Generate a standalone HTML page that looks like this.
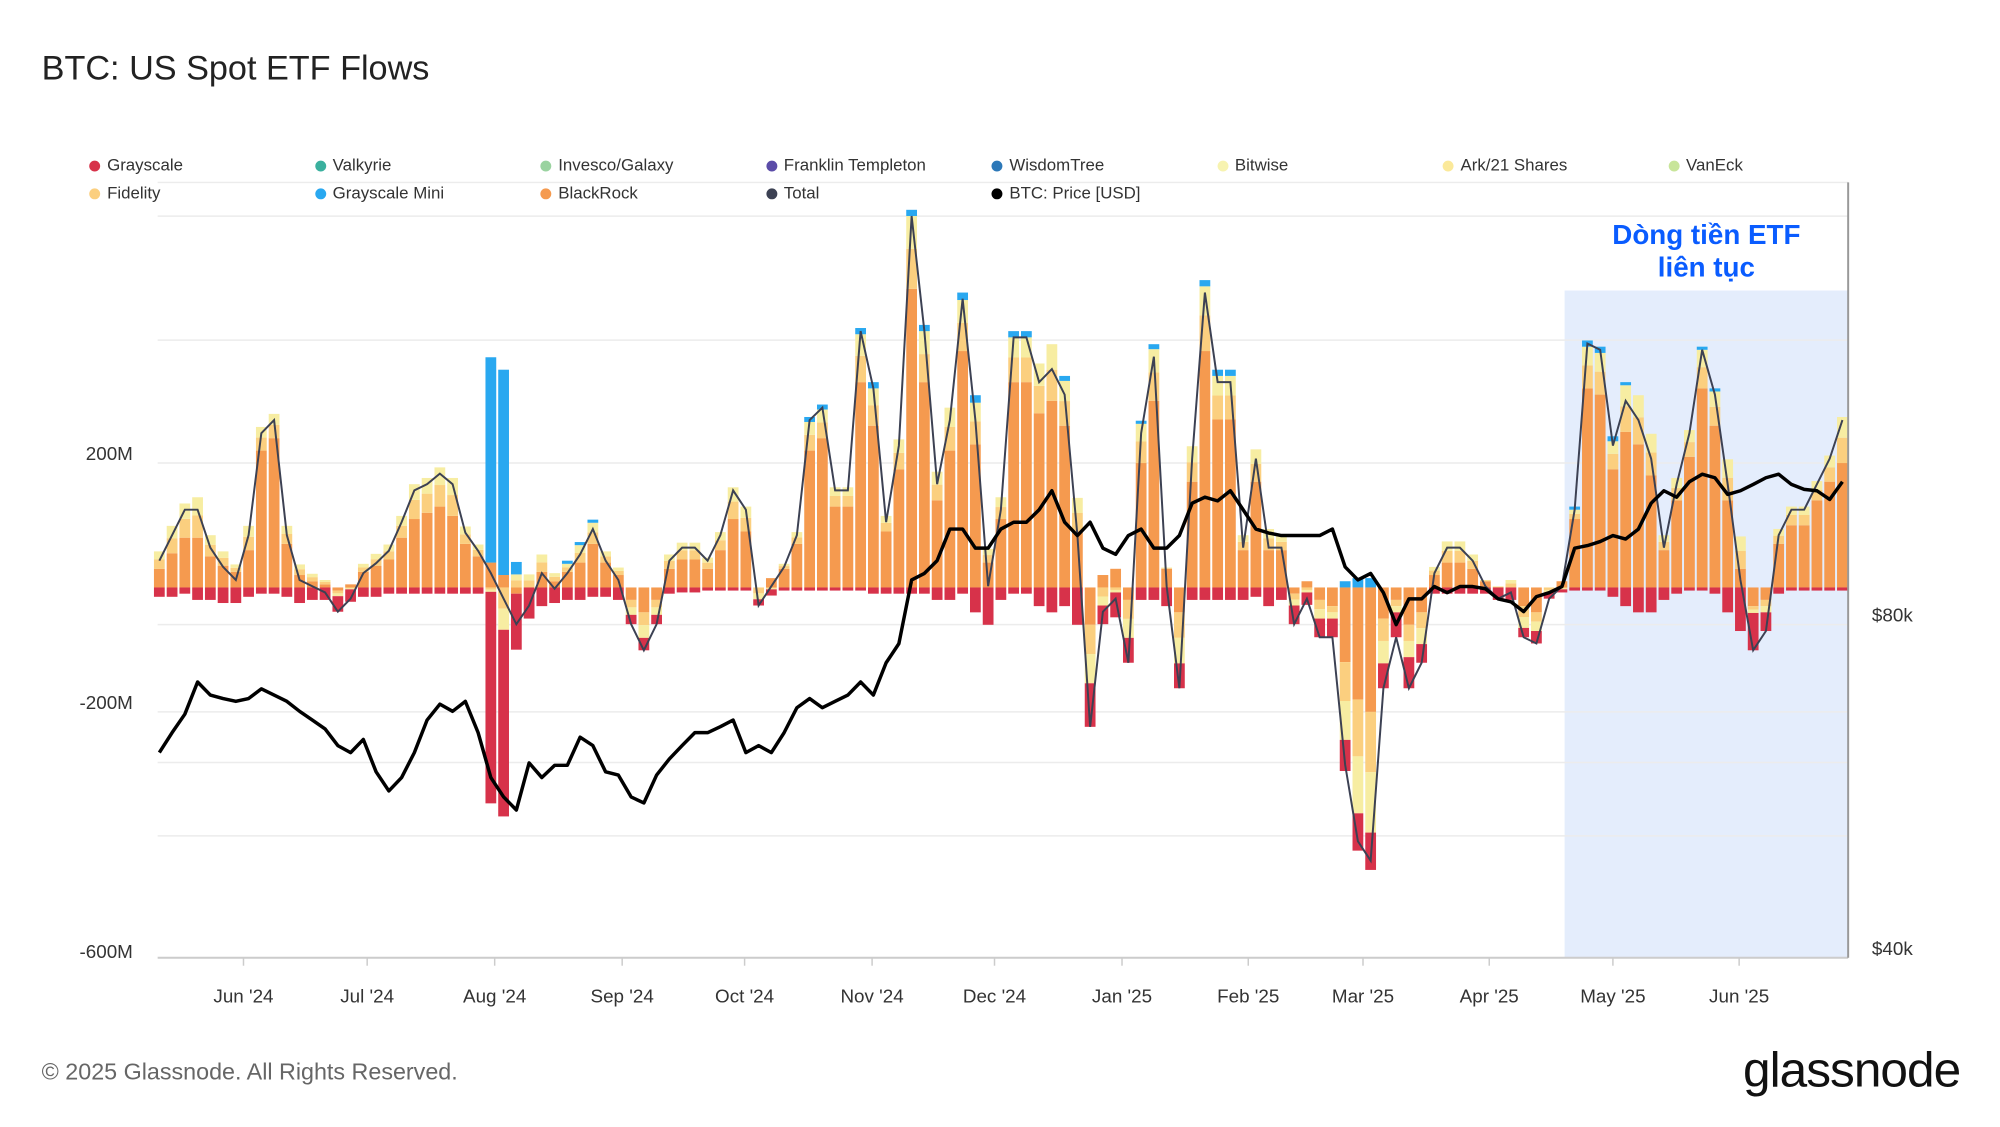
<!DOCTYPE html>
<html><head><meta charset="utf-8">
<style>
body{margin:0;background:#fff;width:2000px;height:1125px;overflow:hidden;font-family:"Liberation Sans","Noto Sans CJK SC",sans-serif}
#root{position:absolute;left:0;top:0;width:2022px;height:1137px;transform:scale(0.9915);transform-origin:0 0}
.title{position:absolute;left:42px;top:50px;font-size:34.5px;color:#222}
.leg{position:absolute;font-size:17px;color:#333;display:flex;align-items:center}
.leg i{display:inline-block;width:11px;height:11px;border-radius:50%;margin-right:7px}
.foot{position:absolute;left:42px;top:1068px;font-size:23.5px;color:#666}
.logo{position:absolute;left:1758px;top:1050px;font-size:50px;color:#111;letter-spacing:-1px}
.note{position:absolute;left:1571px;top:220px;width:300px;text-align:center;color:#0a5cff;font-weight:bold;font-size:28px;line-height:33px}
</style></head><body>
<div id="root">
<div class="title">BTC: US Spot ETF Flows</div>
<div id="legend"></div>
<svg id="chart" width="2022" height="1137" style="position:absolute;left:0;top:0"></svg>
<div class="note">Dòng tiền ETF<br>liên tục</div>
<div class="foot">© 2025 Glassnode. All Rights Reserved.</div>
<div class="logo">glassnode</div>
</div>
<script>
const total=[43,84,125,125,64,33,12,84,248,269,84,12,2,-8,-39,-18,23,39,59,105,156,166,183,166,88,59,23,-18,-59,-29,23,-2,23,53,94,43,12,-59,-101,-59,43,64,64,43,84,156,125,-29,2,33,84,269,289,156,156,412,320,105,228,597,412,166,269,464,269,2,125,402,402,330,351,310,84,-224,-39,-18,-121,248,371,2,-162,207,474,330,330,64,207,64,64,-59,-18,-80,-80,-285,-408,-439,-162,-80,-162,-121,23,64,64,43,2,-18,-8,-80,-90,-18,2,125,392,382,228,300,269,207,64,166,248,382,310,166,12,-101,-70,84,125,125,166,207,269];
const ibit=[30,55,80,80,50,35,25,60,220,240,70,20,10,5,-5,5,25,35,45,80,110,120,130,115,70,50,40,20,-10,0,25,10,25,40,70,40,20,-20,-40,-20,30,45,45,30,60,110,90,0,15,30,70,220,240,130,130,330,260,90,190,480,330,140,220,380,230,40,110,330,330,280,300,260,90,-60,20,30,-20,200,300,30,-40,170,380,270,270,60,170,60,60,-10,10,-20,-30,-120,-180,-200,-50,-20,-60,-40,20,40,40,30,10,0,0,-30,-40,0,10,110,320,310,190,250,230,180,60,140,210,320,260,140,30,-30,-20,70,100,100,140,170,200];
const gbtc=[-15,-15,-10,-20,-20,-25,-25,-15,-10,-10,-15,-25,-20,-20,-25,-20,-15,-15,-10,-10,-10,-10,-10,-10,-10,-10,-340,-300,-90,-50,-30,-25,-20,-20,-15,-15,-20,-15,-20,-15,-10,-8,-8,-5,-5,-5,-5,-10,-10,-5,-5,-5,-5,-5,-5,-5,-10,-10,-10,-10,-10,-20,-20,-10,-40,-60,-20,-10,-10,-30,-40,-30,-60,-70,-30,-40,-40,-20,-20,-30,-40,-20,-20,-20,-20,-20,-15,-30,-20,-30,-20,-30,-30,-50,-60,-60,-40,-40,-50,-30,-10,-10,-10,-10,-10,-20,-20,-15,-20,-10,-5,-5,-5,-5,-15,-30,-40,-40,-20,-10,-5,-5,-10,-40,-70,-60,-30,-10,-5,-5,-5,-5,-5];
const mini=[0,0,0,0,0,0,0,0,0,0,0,0,0,0,0,0,0,0,0,0,0,0,0,0,0,0,330,330,20,0,0,0,5,5,5,0,0,0,0,0,0,0,0,0,0,0,0,0,0,0,0,8,8,0,0,10,10,0,0,10,10,0,0,12,12,0,0,10,10,0,0,8,0,0,0,0,0,5,8,0,0,0,10,10,10,0,0,0,0,0,0,0,0,10,15,15,0,0,0,0,0,0,0,0,0,0,0,0,0,0,0,5,10,10,8,5,0,0,0,0,0,5,5,0,0,0,0,0,0,0,0,0,0];
const price=[61.3,63.9,66.4,71.0,69.1,68.6,68.2,68.6,70.0,69.1,68.2,66.8,65.6,64.4,62.2,61.3,63.0,58.9,56.6,58.2,61.3,65.6,67.8,66.8,68.2,63.9,58.2,55.9,54.4,60.0,58.2,59.7,59.7,63.3,62.2,58.9,58.5,55.9,55.2,58.5,60.5,62.2,63.9,63.9,64.7,65.6,61.3,62.2,61.3,63.9,67.3,68.6,67.3,68.2,69.1,71.0,69.1,73.9,76.9,87.8,89.0,91.4,97.6,97.6,93.8,93.8,97.6,99.0,99.0,101.6,105.7,99.0,96.3,99.0,93.8,92.6,96.3,97.6,93.8,93.8,96.3,103.0,104.3,103.5,105.7,101.6,97.6,96.8,96.3,96.3,96.3,96.3,97.6,90.2,87.8,89.0,85.5,80,84.4,84.4,86.6,85.5,86.6,86.6,86.2,84.4,83.9,82.2,84.8,85.5,86.6,93.8,94.3,95.1,96.3,95.6,97.6,103.0,105.7,104.3,107.7,109.4,108.6,104.9,105.7,107.1,108.6,109.4,107.1,106.0,105.7,103.8,107.7];
const monthLabels=["Jun '24","Jul '24","Aug '24","Sep '24","Oct '24","Nov '24","Dec '24","Jan '25","Feb '25","Mar '25","Apr '25","May '25","Jun '25"];
const monthIdx=[6.6,16.3,26.3,36.3,45.9,55.9,65.5,75.5,85.4,94.4,104.3,114.0,123.9];
const leftTicks=[200,-200,-600];
const rightTicks=[80,40];
const legendItems=[["Grayscale","#d7324a"],["Valkyrie","#3ab09e"],["Invesco/Galaxy","#9ad3a0"],["Franklin Templeton","#5b4ca8"],["WisdomTree","#2c78b8"],["Bitwise","#f7f3b0"],["Ark/21 Shares","#fbe99a"],["VanEck","#c8e59a"],["Fidelity","#fbcf7f"],["Grayscale Mini","#29a8f0"],["BlackRock","#f59a4f"],["Total","#3c4153"],["BTC: Price [USD]","#000"]];

const NS="http://www.w3.org/2000/svg";
const svg=document.getElementById('chart');
const X0=160.7,DX=12.86;
const xs=i=>X0+DX*i;
const yv=v=>592.5-v*0.6275;
const yp=p=>966-336*Math.log2(p/40);
function mk(tag,attrs,parent){const e=document.createElementNS(NS,tag);for(const k in attrs)e.setAttribute(k,attrs[k]);(parent||svg).appendChild(e);return e;}

const lg=document.getElementById('legend');
legendItems.forEach((it,k)=>{const d=document.createElement('div');d.className='leg';
d.style.left=(90+227.5*(k%8))+'px';d.style.top=(k<8?157:185)+'px';
d.innerHTML='<i style="background:'+it[1]+'"></i>'+it[0];


lg.appendChild(d);});

let r=mk('rect',{x:1578,y:293,width:286,height:673,fill:'#e4edfc'});


[184,218,343,467,630,718,769,843].forEach(y=>{let g=mk('line',{x1:159,x2:1864,y1:y,y2:y,stroke:'#ececec','stroke-width':1.5});

});
const gB=mk('g',{});


const bw=DX-2;
total.forEach((t,i)=>{
 const rest=t-ibit[i]-gbtc[i]-mini[i];
 const pos=[],neg=[];
 const push=(v,c)=>{if(v>0)pos.push([v,c]);else if(v<0)neg.push([v,c]);};
 push(ibit[i],'#f59a4f');
 if(rest>0){push(rest*0.55,'#fbcf7f');push(rest*0.45,'#f7eda2');}
 else{push(rest*0.5,'#fbcf7f');push(rest*0.5,'#f7eda2');}
 push(mini[i],'#29a8f0');
 push(gbtc[i],'#d7324a');
 let acc=0;pos.forEach(([v,c])=>{const b=mk('rect',{x:xs(i)-bw/2,y:yv(acc+v),width:bw,height:yv(acc)-yv(acc+v),fill:c},gB);
 
 acc+=v;});
 acc=0;neg.forEach(([v,c])=>{const b=mk('rect',{x:xs(i)-bw/2,y:yv(acc),width:bw,height:yv(acc+v)-yv(acc),fill:c},gB);
 
 acc+=v;});
});
let tl=mk('polyline',{points:total.map((t,i)=>xs(i)+','+yv(t)).join(' '),fill:'none',stroke:'#3c4153','stroke-width':2});


let pl=mk('polyline',{points:price.map((p,i)=>xs(i)+','+yp(p)).join(' '),fill:'none',stroke:'#000','stroke-width':3.5,'stroke-linejoin':'round'});


let ax=mk('line',{x1:159,x2:1864,y1:966,y2:966,stroke:'#ccc','stroke-width':2});


let ay=mk('line',{x1:1864,x2:1864,y1:184,y2:966,stroke:'#999','stroke-width':2});


monthLabels.forEach((m,k)=>{const x=xs(monthIdx[k]);
 const t=mk('line',{x1:x,x2:x,y1:966,y2:974,stroke:'#ccc','stroke-width':1.5});
 
 
 const tx=mk('text',{x:x,y:1011,'text-anchor':'middle','font-size':19,fill:'#333'});tx.textContent=m;
 
 });
leftTicks.forEach(v=>{const tx=mk('text',{x:134,y:yv(v)-3,'text-anchor':'end','font-size':19,fill:'#333'});tx.textContent=v+'M';
 
 });
rightTicks.forEach(v=>{const tx=mk('text',{x:1888,y:yp(v)-3,'font-size':19,fill:'#333'});tx.textContent='$'+v+'k';
 
 });
</script>
</body></html>
